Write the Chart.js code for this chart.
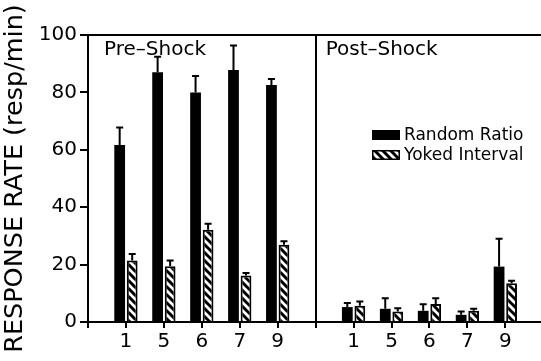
<!DOCTYPE html>
<html>
<head>
<meta charset="utf-8">
<script src="https://cdn.jsdelivr.net/npm/chart.js@4.4.0/dist/chart.umd.min.js"></script>
<style>
  html, body { margin: 0; padding: 0; background: #fff; }
  #wrap { width: 541px; height: 361px; }
</style>
</head>
<body>
<div id="wrap"><canvas id="myChart" width="541" height="361"></canvas></div>
<script>
const SUBJECTS = ['1', '5', '6', '7', '9'];
const PANELS = ['Pre\u2013Shock', 'Post\u2013Shock'];
const SERIES_NAMES = ['Random Ratio', 'Yoked Interval'];
const Y_TICKS = [0, 20, 40, 60, 80, 100];

const PRE_RR = [61.7, 87.0, 80.0, 87.8, 82.6];
const PRE_RR_ERR = [6.1, 5.4, 5.7, 8.5, 2.1];
const PRE_YI = [21.4, 19.4, 32.1, 16.2, 26.9];
const PRE_YI_ERR = [2.3, 2.0, 2.1, 0.9, 1.2];
const POST_RR = [5.2, 4.6, 3.9, 2.5, 19.3];
const POST_RR_ERR = [1.4, 3.7, 2.3, 1.2, 9.7];
const POST_YI = [5.7, 3.7, 6.3, 3.9, 13.5];
const POST_YI_ERR = [1.4, 1.1, 2.0, 0.7, 0.9];

const FONT = 'DejaVu Sans';

// hatch pattern for the yoked bars
function makeHatch() {
  const size = 8;
  const tile = document.createElement('canvas');
  tile.width = size; tile.height = size;
  const t = tile.getContext('2d');
  t.fillStyle = '#fff';
  t.fillRect(0, 0, size, size);
  t.strokeStyle = '#000';
  t.lineWidth = 3;
  for (let k = -1; k <= 1; k++) {
    t.beginPath();
    t.moveTo(k * size - 1, -1);
    t.lineTo(k * size + size + 1, size + 1);
    t.stroke();
  }
  return t.createPattern(tile, 'repeat');
}
const hatch = makeHatch();

// x positions: pre-shock subjects at 1..5, post-shock at 7..11
function points(pre, post) {
  const out = [];
  pre.forEach((v, i) => out.push({ x: i + 1, y: v }));
  post.forEach((v, i) => out.push({ x: i + 7, y: v }));
  return out;
}
const rrErr = PRE_RR_ERR.concat(POST_RR_ERR);
const yiErr = PRE_YI_ERR.concat(POST_YI_ERR);

const errorBars = {
  id: 'errorBars',
  afterDatasetsDraw(chart) {
    const ctx = chart.ctx;
    const yScale = chart.scales.y;
    const errs = [rrErr, yiErr];
    ctx.save();
    ctx.strokeStyle = '#000';
    ctx.lineWidth = 2;
    chart.data.datasets.forEach((ds, di) => {
      const meta = chart.getDatasetMeta(di);
      meta.data.forEach((bar, i) => {
        const v = ds.data[i].y;
        const top = yScale.getPixelForValue(v + errs[di][i]);
        ctx.beginPath();
        ctx.moveTo(bar.x, bar.y);
        ctx.lineTo(bar.x, top);
        ctx.moveTo(bar.x - 3.5, top);
        ctx.lineTo(bar.x + 3.5, top);
        ctx.stroke();
      });
    });
    ctx.restore();
  }
};

const decorations = {
  id: 'decorations',
  afterDraw(chart) {
    const ctx = chart.ctx;
    const a = chart.chartArea;
    const xs = chart.scales.x;
    ctx.save();
    // top frame line
    ctx.strokeStyle = '#000';
    ctx.lineWidth = 2;
    ctx.beginPath();
    ctx.moveTo(a.left - 1, a.top);
    ctx.lineTo(a.right, a.top);
    ctx.stroke();

    ctx.fillStyle = '#000';
    ctx.font = '20px "' + FONT + '"';
    ctx.textBaseline = 'alphabetic';
    ctx.textAlign = 'left';
    ctx.fillText(PANELS[0], a.left + 16, a.top + 20);
    ctx.fillText(PANELS[1], xs.getPixelForValue(6) + 10, a.top + 20);

    // legend
    const lx = 372, ly = 130;
    ctx.fillRect(lx, ly, 28, 10);
    ctx.fillStyle = hatch;
    ctx.fillRect(lx, ly + 20, 28, 10);
    ctx.lineWidth = 1.5;
    ctx.strokeRect(lx + 0.75, ly + 20.75, 26.5, 8.5);
    ctx.fillStyle = '#000';
    ctx.font = '17px "' + FONT + '"';
    ctx.textBaseline = 'middle';
    ctx.fillText(SERIES_NAMES[0], lx + 32, ly + 6);
    ctx.fillText(SERIES_NAMES[1], lx + 32, ly + 26);
    ctx.restore();
  }
};

const ctx = document.getElementById('myChart');

new Chart(ctx, {
  type: 'bar',
  data: {
    datasets: [{
      label: SERIES_NAMES[0],
      data: points(PRE_RR, POST_RR),
      backgroundColor: '#000',
      borderWidth: 0,
      categoryPercentage: 0.66,
      barPercentage: 0.86
    }, {
      label: SERIES_NAMES[1],
      data: points(PRE_YI, POST_YI),
      backgroundColor: hatch,
      borderColor: '#000',
      borderWidth: 2,
      categoryPercentage: 0.66,
      barPercentage: 0.86
    }]
  },
  options: {
    responsive: false,
    animation: false,
    events: [],
    layout: { padding: { top: 35, right: 0, left: 0, bottom: 0 } },
    plugins: {
      legend: { display: false },
      tooltip: { enabled: false }
    },
    scales: {
      x: {
        type: 'linear',
        offset: false,
        min: 0,
        max: 11.94,
        afterBuildTicks(scale) {
          scale.ticks = [0, 1, 2, 3, 4, 5, 6, 7, 8, 9, 10, 11].map(v => ({ value: v }));
        },
        afterFit(scale) { scale.height = 39; },
        ticks: {
          autoSkip: false,
          maxRotation: 0,
          padding: 2,
          color: '#000',
          font: { family: FONT, size: 20 },
          callback(v) {
            if (v >= 1 && v <= 5) return SUBJECTS[v - 1];
            if (v >= 7 && v <= 11) return SUBJECTS[v - 7];
            return '';
          }
        },
        grid: {
          offset: false,
          drawOnChartArea: true,
          color: c => (c.tick && c.tick.value === 6) ? '#000' : 'rgba(0,0,0,0)',
          lineWidth: 2,
          tickColor: '#000',
          tickLength: 6
        },
        border: { color: '#000', width: 2 }
      },
      y: {
        min: 0,
        max: 100,
        afterBuildTicks(scale) {
          scale.ticks = Y_TICKS.map(v => ({ value: v }));
        },
        afterFit(scale) { scale.width = 88; },
        ticks: {
          padding: 3,
          color: '#000',
          font: { family: FONT, size: 20 }
        },
        title: {
          display: true,
          text: 'RESPONSE RATE (resp/min)',
          color: '#000',
          font: { family: FONT, size: 25.5 },
          padding: 0
        },
        grid: {
          drawOnChartArea: false,
          tickColor: '#000',
          tickLength: 8,
          lineWidth: 2
        },
        border: { color: '#000', width: 2 }
      }
    }
  },
  plugins: [errorBars, decorations]
});
</script>
</body>
</html>
